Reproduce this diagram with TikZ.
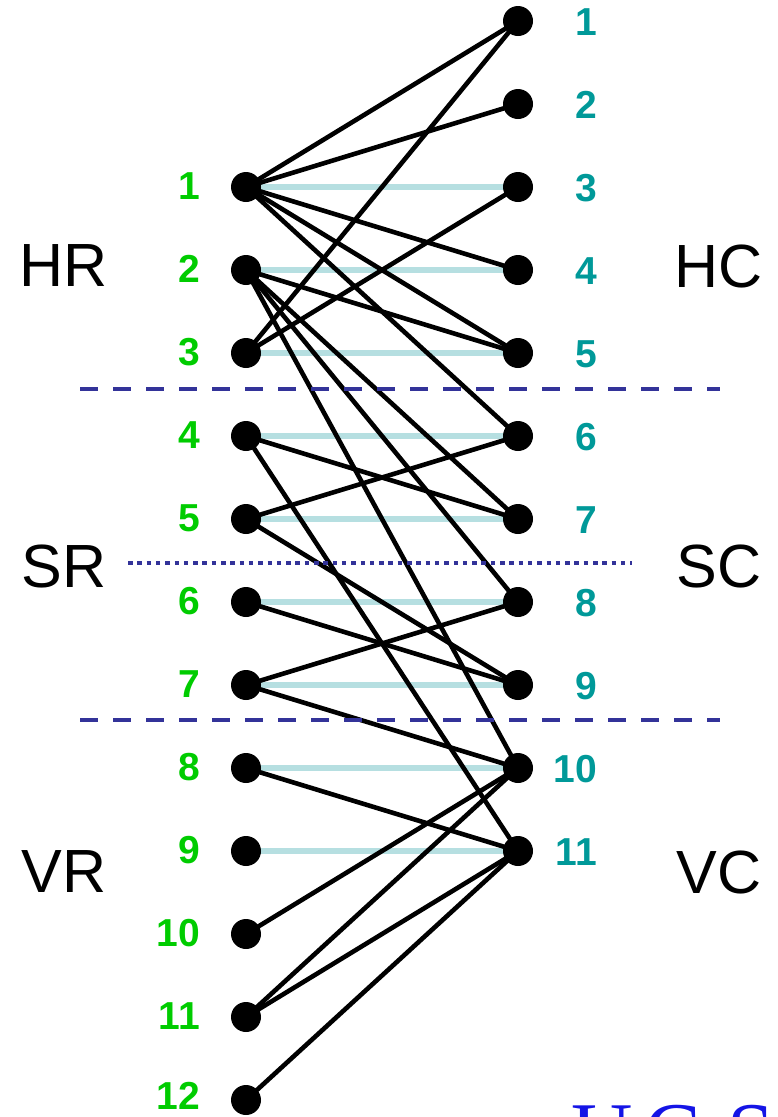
\documentclass[tikz,border=0pt]{standalone}
\usepackage{fontspec}
\setmainfont{Liberation Sans}
\newfontfamily\logoserif{Liberation Serif}
\usetikzlibrary{backgrounds}

\definecolor{matchblue}{RGB}{182,223,225}
\definecolor{rowgreen}{RGB}{0,204,0}
\definecolor{colteal}{RGB}{0,153,153}
\definecolor{sepblue}{RGB}{51,51,153}
\definecolor{logoblue}{RGB}{20,20,230}

\tikzset{
  vdot/.style={circle, fill=black, inner sep=0pt, minimum size=30pt},
  edgeline/.style={line width=4.6pt, black},
  matchline/.style={line width=6pt, matchblue},
  rowlab/.style={font=\bfseries\fontsize{39}{39}\selectfont, text=rowgreen, anchor=east, inner sep=0pt},
  collab/.style={font=\bfseries\fontsize{39}{39}\selectfont, text=colteal, anchor=east, inner sep=0pt},
  blocklab/.style={font=\fontsize{61}{61}\selectfont, inner sep=0pt},
  blocksep/.style={line width=4pt, sepblue, dash pattern=on 18pt off 15pt},
  finesep/.style={line width=4.5pt, sepblue, dash pattern=on 4.5pt off 4.8pt},
}

\begin{document}
\begin{tikzpicture}[x=1pt, y=-1pt]
\useasboundingbox (0,0) rectangle (778,1117);

% row vertices (left) and column vertices (right)
\foreach \i in {1,...,12} {
  \node[vdot] (L\i) at (246, {187+83*(\i-1)}) {};
  \node[rowlab] (Lt\i) at (200, {186+83*(\i-1)-(\i==12)*3}) {\i};
}
\foreach \j in {1,...,11} {
  \node[vdot] (R\j) at (518, {21+83*(\j-1)}) {};
  \node[collab] (Rt\j) at (597, {22+83*(\j-1)}) {\j};
}

% block names
\node[blocklab] (HR) at (64,266) {HR};
\node[blocklab] (SR) at (64,566) {SR};
\node[blocklab] (VR) at (64,872) {VR};
\node[blocklab] (HC) at (719,266) {HC};
\node[blocklab] (SC) at (719,566) {SC};
\node[blocklab] (VC) at (719,872) {VC};

\begin{scope}[on background layer]
  % maximum matching
  \foreach \a/\b in {1/3,2/4,3/5,4/6,5/7,6/8,7/9,8/10,9/11}
    \draw[matchline] (L\a.center) -- (R\b.center);
  % nonzeros of the matrix
  \foreach \a/\b in {1/1,1/2,1/4,1/5,1/6,
                     2/5,2/7,2/8,2/10,
                     3/1,3/3,
                     4/7,4/11,
                     5/6,5/9,
                     6/9,
                     7/8,7/10,
                     8/11,
                     10/10,
                     11/10,11/11,
                     12/11}
    \draw[edgeline] (L\a.center) -- (R\b.center);
\end{scope}

% block separators
\coordinate (s1a) at (80,389);  \coordinate (s1b) at (720,389);
\coordinate (s2a) at (80,720);  \coordinate (s2b) at (720,720);
\coordinate (s3a) at (128,563); \coordinate (s3b) at (632,563);
\draw[blocksep] (s1a) -- (s1b);
\draw[blocksep] (s2a) -- (s2b);
\draw[finesep] (s3a) -- (s3b);

% logo text at the lower edge
\begin{scope}
  \clip (0,0) rectangle (778,1117);
  \node[anchor=base west, inner sep=0pt, text=logoblue,
        font=\logoserif\fontsize{85}{85}\selectfont] (logo) at (571,1161) {U\kern12pt C\kern26pt S};
\end{scope}
\end{tikzpicture}
\end{document}
